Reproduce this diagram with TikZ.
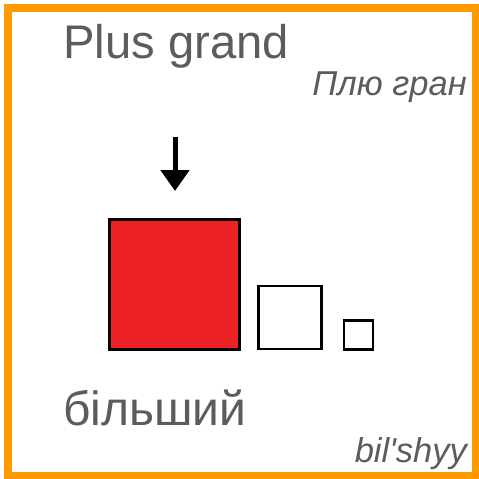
\documentclass[tikz,border=0pt]{standalone}
\usepackage{fontspec}
\setmainfont{Liberation Sans}
\usetikzlibrary{arrows.meta}
\definecolor{frameorange}{HTML}{FF9A00}
\definecolor{textgray}{HTML}{5C5C5C}
\definecolor{boxred}{HTML}{EC2227}
\tikzset{
  bigtext/.style={inner sep=0pt, text=textgray, font=\fontsize{48}{48}\selectfont},
  smalltext/.style={inner sep=0pt, text=textgray, font=\itshape\fontsize{34.5}{34.5}\selectfont},
  sq/.style={draw=black, inner sep=0pt, outer sep=0pt},
}
\begin{document}
\begin{tikzpicture}[x=1pt,y=-1pt]
\useasboundingbox (0,0) rectangle (479,479);
\fill[white] (0,0) rectangle (479,479);
\draw[frameorange, line width=8pt] (8,8) rectangle (476,476);
\node[bigtext, font=\fontsize{47.2}{47.2}\selectfont, anchor=base west] (fr) at (63,58) {Plus grand};
\node[smalltext, anchor=base east] (frtr) at (467,95) {Плю гран};
\node[bigtext, anchor=base west] (uk) at (63,425) {більший};
\node[smalltext, anchor=base east] (uktr) at (467,462) {bil\textquotesingle shyy};
\node[sq, fill=boxred, line width=3pt, minimum size=130pt] (big) at (174.5,284.5) {};
\node[sq, fill=white, line width=2.6pt, minimum size=63pt] (mid) at (290,317.5) {};
\node[sq, fill=white, line width=2.6pt, minimum size=29pt] (small) at (358.5,335) {};
\coordinate (atop) at (175,137);
\coordinate (atip) at (175,191);
\draw[line width=5pt, -{Triangle[width=28pt,length=21pt]}] (atop) -- (atip);
\end{tikzpicture}
\end{document}
